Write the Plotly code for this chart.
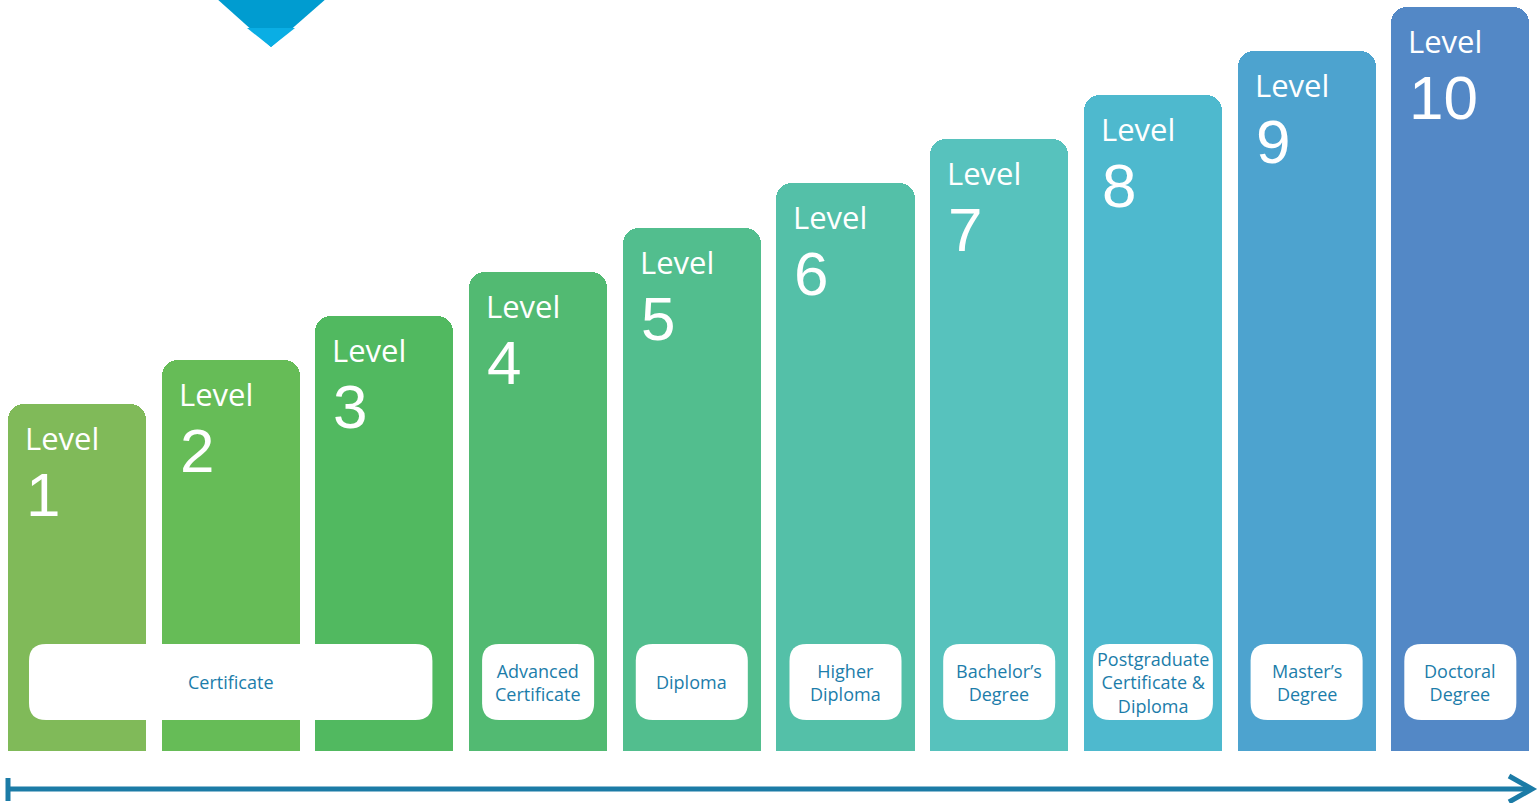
import plotly.graph_objects as go

# ---------------- data ----------------
levels = ["1", "2", "3", "4", "5", "6", "7", "8", "9", "10"]
level_word = "Level"
bar_heights = [7.87, 8.87, 9.87, 10.87, 11.87, 12.87, 13.87, 14.87, 15.87, 16.87]
qualifications = ["Certificate", "Advanced<br>Certificate", "Diploma", "Higher<br>Diploma",
                  "Bachelor’s<br>Degree", "Postgraduate<br>Certificate &<br>Diploma",
                  "Master’s<br>Degree", "Doctoral<br>Degree"]
qual_first_level = [1, 4, 5, 6, 7, 8, 9, 10]
qual_last_level = [3, 4, 5, 6, 7, 8, 9, 10]

# ---------------- style ----------------
W, H = 1539, 803
X_RANGE = [-0.501, 9.512]
Y_RANGE = [-1.179, 17.03]
PX_X = W / (X_RANGE[1] - X_RANGE[0])
bar_colors = ["#80BA59", "#66BC57", "#51B960", "#52BA72", "#52BE8E",
              "#54C0A8", "#57C2BD", "#4EB9CE", "#4DA3CF", "#5388C6"]
BAR_W = 0.898
FONT = "Open Sans, Noto Sans, sans-serif"
DIGIT_FONT = "Liberation Sans, Arial, sans-serif"
TEXT_BLUE = "#1C7DAA"
ARROW_BLUE = "#1B7BA6"
DEFAULT_INSET = 13
special_inset = {"Certificate": 21, "Postgraduate<br>Certificate &<br>Diploma": 9}
BOX_Y0, BOX_Y1, BOX_R = 31, 107, 17

x_pos = list(range(len(levels)))

fig = go.Figure()
fig.add_trace(go.Bar(
    x=x_pos, y=bar_heights, width=BAR_W,
    marker=dict(color=bar_colors, cornerradius=16, line=dict(width=0)),
    hoverinfo="skip", showlegend=False,
))

annotations = []
left_shift = -BAR_W * PX_X / 2 + 17
for i, h in enumerate(bar_heights):
    annotations.append(dict(x=x_pos[i], y=h, xref="x", yref="y", text=level_word,
                            showarrow=False, xanchor="left", yanchor="top",
                            xshift=left_shift, yshift=-13, borderpad=0, borderwidth=0,
                            font=dict(family=FONT, size=31, color="white")))
    annotations.append(dict(x=x_pos[i], y=h, xref="x", yref="y", text=levels[i],
                            showarrow=False, xanchor="left", yanchor="top",
                            xshift=left_shift + 1, yshift=-56, borderpad=0, borderwidth=0,
                            font=dict(family=DIGIT_FONT, size=62, color="white")))


def rounded_rect(hw, y0, y1, r):
    x0, x1 = -hw, hw
    return (f"M {x0 + r},{y0} L {x1 - r},{y0} Q {x1},{y0} {x1},{y0 + r} "
            f"L {x1},{y1 - r} Q {x1},{y1} {x1 - r},{y1} L {x0 + r},{y1} "
            f"Q {x0},{y1} {x0},{y1 - r} L {x0},{y0 + r} Q {x0},{y0} {x0 + r},{y0} Z")


shapes = []
for k, q in enumerate(qualifications):
    a = qual_first_level[k] - 1
    b = qual_last_level[k] - 1
    xc = (x_pos[a] + x_pos[b]) / 2
    inset = special_inset.get(q, DEFAULT_INSET)
    hw = ((x_pos[b] - x_pos[a]) * PX_X + BAR_W * PX_X) / 2 - inset
    shapes.append(dict(type="path", xref="x", yref="y", xsizemode="pixel", ysizemode="pixel",
                       xanchor=xc, yanchor=0, path=rounded_rect(hw, BOX_Y0, BOX_Y1, BOX_R),
                       fillcolor="white", line=dict(width=0), layer="above"))
    annotations.append(dict(x=xc, y=0, xref="x", yref="y", text=q, showarrow=False,
                            xanchor="center", yanchor="middle", yshift=(BOX_Y0 + BOX_Y1) / 2,
                            font=dict(family=FONT, size=18, color=TEXT_BLUE)))


# bottom arrow (paper coords)
def px(xp):
    return xp / W


def py(yp):
    return 1 - yp / H


shapes.append(dict(type="line", xref="paper", yref="paper", x0=px(8), x1=px(1531),
                   y0=py(789), y1=py(789), line=dict(color=ARROW_BLUE, width=5)))
shapes.append(dict(type="line", xref="paper", yref="paper", x0=px(8), x1=px(8),
                   y0=py(778), y1=py(801), line=dict(color=ARROW_BLUE, width=5)))
shapes.append(dict(type="path", xref="paper", yref="paper",
                   path=f"M {px(1509)},{py(776)} L {px(1532)},{py(789)} L {px(1509)},{py(802)}",
                   line=dict(color=ARROW_BLUE, width=5), fillcolor="rgba(0,0,0,0)"))

# top triangle marker
shapes.append(dict(type="path", xref="paper", yref="paper",
                   path=f"M {px(216)},{py(-2)} L {px(327)},{py(-2)} L {px(271)},{py(47)} Z",
                   fillcolor="#009CD0", line=dict(width=0)))
shapes.append(dict(type="path", xref="paper", yref="paper",
                   path=f"M {px(247)},{py(28)} L {px(295)},{py(28)} L {px(271)},{py(47)} Z",
                   fillcolor="#0AAEE4", line=dict(width=0)))

fig.update_layout(
    width=W, height=H, margin=dict(l=0, r=0, t=0, b=0),
    paper_bgcolor="white", plot_bgcolor="white",
    xaxis=dict(range=X_RANGE, visible=False, fixedrange=True),
    yaxis=dict(range=Y_RANGE, visible=False, fixedrange=True),
    shapes=shapes, annotations=annotations, showlegend=False, bargap=0,
)

fig.write_html("out.html", config={"displayModeBar": False},
               post_script="document.body.style.margin='0';document.body.style.overflow='hidden';")
